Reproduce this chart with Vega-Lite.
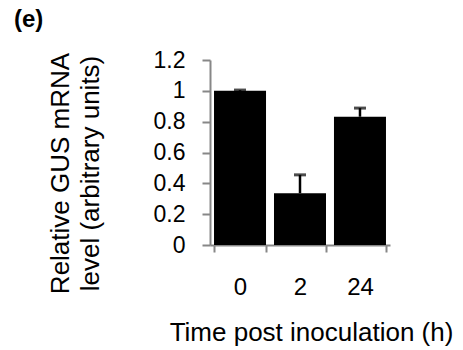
{
  "$schema": "https://vega.github.io/schema/vega-lite/v6.json",
  "width": 180,
  "height": 185,
  "autosize": {"type": "none"},
  "padding": {"left": 210, "top": 60, "right": 73, "bottom": 105},
  "background": "white",
  "config": {"view": {"stroke": null}, "font": "Liberation Sans",
    "title": {"fontSize": 24, "fontWeight": "bold", "font": "Liberation Sans", "color": "black"},
    "axisY": {"values": [0, 0.2, 0.4, 0.6, 0.8, 1, 1.2], "format": "~g", "labelOverlap": false, "tickSize": 8, "tickColor": "#878787", "tickWidth": 2, "domainColor": "#878787", "domainWidth": 2, "labelPadding": 17, "labelFontSize": 23, "labelColor": "black", "labelFont": "Liberation Sans", "grid": false,
      "titleFont": "Liberation Sans", "titleFontSize": 26, "titleFontWeight": "normal", "titleLineHeight": 30, "titleX": -142, "titleY": 113, "titleBaseline": "alphabetic", "titleAlign": "center", "titleColor": "black"}},
  "title": {"text": "(e)", "anchor": "start", "frame": "group", "fontSize": 24, "fontWeight": "bold", "dx": -196, "offset": -2, "baseline": "alphabetic"},
  "data": {"values": [
    {"time": "0", "value": 1.0, "err": 1.005},
    {"time": "2", "value": 0.336, "err": 0.455},
    {"time": "24", "value": 0.832, "err": 0.888}
  ]},
  "encoding": {
    "x": {"field": "time", "type": "ordinal", "sort": ["0", "2", "24"],
      "scale": {"paddingInner": 0.133, "paddingOuter": 0.067},
      "axis": {"labelAngle": 0, "tickBand": "extent", "ticks": true, "tickSize": 7, "tickColor": "#878787", "tickWidth": 2, "domainColor": "#878787", "domainWidth": 2, "labelFontSize": 24, "labelPadding": 23, "labelColor": "black", "labelFont": "Liberation Sans", "title": "Time post inoculation (h)", "titleFont": "Liberation Sans", "titleFontSize": 26, "titleFontWeight": "normal", "titleX": 101, "titleY": 95, "titleBaseline": "alphabetic", "titleAlign": "center", "titleColor": "black", "grid": false}
    }
  },
  "layer": [
    {"mark": {"type": "bar", "color": "black"},
     "encoding": {"y": {"field": "value", "type": "quantitative", "scale": {"domain": [0, 1.2], "nice": false},
       "axis": {"values": [0, 0.2, 0.4, 0.6, 0.8, 1, 1.2], "title": ["Relative GUS mRNA", "level (arbitrary units)"]}}}},
    {"mark": {"type": "rule", "color": "black", "strokeWidth": 2.5},
     "encoding": {"y": {"field": "value", "type": "quantitative", "axis": {"values": [0, 0.2, 0.4, 0.6, 0.8, 1, 1.2], "title": ["Relative GUS mRNA", "level (arbitrary units)"]}}, "y2": {"field": "err"}}},
    {"mark": {"type": "tick", "color": "black", "thickness": 3, "size": 12},
     "encoding": {"y": {"field": "err", "type": "quantitative", "axis": {"values": [0, 0.2, 0.4, 0.6, 0.8, 1, 1.2], "title": ["Relative GUS mRNA", "level (arbitrary units)"]}}}}
  ]
}
